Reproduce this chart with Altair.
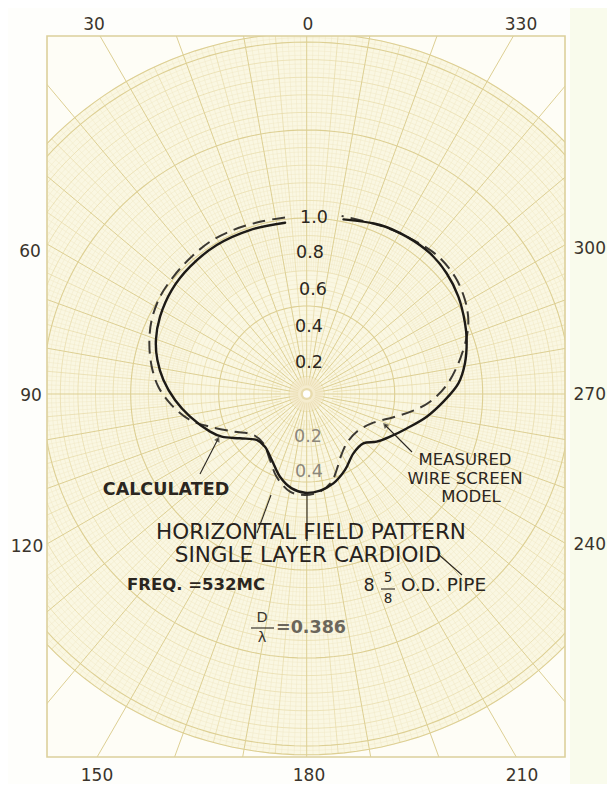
import altair as alt
import numpy as np
import pandas as pd

alt.data_transformers.disable_max_rows()

# ---------------- data ----------------
# calculated pattern (solid): azimuth in degrees (0 at top, counter-clockwise), relative field
calc_angle = [7.2, 19.1, 31.1, 42.5, 52.4, 62.2, 70.3, 77.2, 84.4, 92.6, 101.0, 111.3,
              116.7, 123.6, 132.6, 141.6, 152.1, 162.1, 171.0, 179.0, 187.9, 196.6,
              206.8, 218.2, 228.9, 235.7, 242.9, 251.0, 259.3, 266.8, 274.0, 281.0,
              288.6, 294.0, 302.7, 310.8, 318.8, 327.6, 336.5, 348.1]
calc_value = [0.981, 0.986, 0.989, 0.981, 0.968, 0.942, 0.910, 0.870, 0.818, 0.749, 0.675, 0.589,
              0.540, 0.455, 0.386, 0.382, 0.424, 0.494, 0.543, 0.561, 0.554, 0.530,
              0.483, 0.429, 0.427, 0.481, 0.532, 0.601, 0.694, 0.778, 0.864, 0.916,
              0.959, 0.985, 1.024, 1.050, 1.063, 1.059, 1.047, 1.014]
# measured wire screen model (dashed)
meas_angle = [7.0, 15.2, 24.1, 32.4, 40.7, 48.7, 56.4, 64.5, 72.2, 80.0, 87.2, 94.7, 102.6,
              108.7, 117.2, 127.5, 138.7, 150.9, 160.0, 170.3, 179.0, 187.8, 195.9, 201.5,
              208.5, 219.0, 233.0, 246.7, 255.0, 261.1, 266.4, 273.7, 281.4, 289.7, 294.6,
              300.7, 308.3, 316.9, 326.4, 335.4, 348.9]
meas_value = [1.011, 1.014, 1.021, 1.025, 1.017, 1.009, 1.000, 0.976, 0.939, 0.894, 0.844, 0.770, 0.679,
              0.580, 0.468, 0.382, 0.373, 0.429, 0.500, 0.563, 0.574, 0.560, 0.518, 0.464,
              0.405, 0.361, 0.356, 0.412, 0.510, 0.613, 0.702, 0.797, 0.879, 0.966, 1.010,
              1.046, 1.074, 1.081, 1.062, 1.046, 1.031]

angle_labels_left = ["30", "0", "330", "60", "90", "120", "150", "180", "210"]
angle_labels_right = ["300", "270", "240"]
value_labels = ["1.0", "0.8", "0.6", "0.4", "0.2"]
value_labels_low = ["0.2", "0.4"]
title_lines = ["HORIZONTAL FIELD PATTERN", "SINGLE LAYER CARDIOID"]
calc_text = ["CALCULATED"]
meas_text = ["MEASURED", "WIRE SCREEN", "MODEL"]
freq_text = ["FREQ. =532MC"]
pipe_text = ["8", "5", "8", "O.D. PIPE"]
dl_text = ["D", "\u03bb", "=0.386"]

# ---------------- layout (pixels) ----------------
CX, CY, PXU = 306.7, 394.0, 176.0
FX0, FY0, FX1, FY1 = 47, 36, 565, 757
W, H = FX1 - FX0, FY1 - FY0
R_OUT = 2.05


def ux(px):
    return (px - CX) / PXU


def uy(py):
    return (CY - py) / PXU


xs = alt.Scale(domain=[ux(FX0), ux(FX1)], nice=False, zero=False)
ys = alt.Scale(domain=[uy(FY1), uy(FY0)], nice=False, zero=False)


def XE(f="x"):
    return alt.X(f + ":Q", scale=xs, axis=None)


def YE(f="y"):
    return alt.Y(f + ":Q", scale=ys, axis=None)


# ---------------- polar graph paper ----------------
ring_r = np.round(np.arange(0.025, R_OUT + 1e-9, 0.025), 4)
theta = np.radians(np.arange(0, 362, 2))


def rings_df(radii):
    rows = []
    for i, r in enumerate(radii):
        for k, t in enumerate(theta):
            rows.append((i, k, round(r * np.cos(t), 4), round(r * np.sin(t), 4)))
    return pd.DataFrame(rows, columns=["id", "o", "x", "y"])


def is_mult(v, m):
    return abs(v / m - round(v / m)) < 1e-6


fine_r = [r for r in ring_r if not is_mult(r, 0.1)]
med_r = [r for r in ring_r if is_mult(r, 0.1) and not is_mult(r, 0.5)]
major_r = [r for r in ring_r if is_mult(r, 0.5)] + [R_OUT]


def radial_df(degs, r0, r1):
    rows = []
    for i, d in enumerate(degs):
        t = np.radians(d)
        for k, r in enumerate((r0, r1)):
            rows.append((i, k, round(-r * np.sin(t), 4), round(r * np.cos(t), 4)))
    return pd.DataFrame(rows, columns=["id", "o", "x", "y"])


deg_all = np.arange(0, 360)
rad_fine = radial_df([d for d in deg_all if d % 5 != 0], 0.7, R_OUT)
rad_half = radial_df([d for d in deg_all if d % 5 == 0 and d % 10 != 0], 0.15, R_OUT)
rad_major = radial_df([d for d in deg_all if d % 10 == 0], 0.05, 3.2)


def grid_layer(df, color, width, opacity=1.0, dash=None):
    kw = dict(color=color, strokeWidth=width, opacity=opacity, clip=True)
    if dash:
        kw["strokeDash"] = dash
    return alt.Chart(df).mark_line(**kw).encode(
        x=XE(), y=YE(), detail="id:N", order="o:Q")


# backgrounds
frame_df = pd.DataFrame({"x": [ux(FX0)], "x2": [ux(FX1)], "y": [uy(FY1)], "y2": [uy(FY0)]})
frame_bg = alt.Chart(frame_df).mark_rect(fill="#fefdf6", clip=True).encode(
    x=XE(), x2="x2:Q", y=YE(), y2="y2:Q")
frame_border = alt.Chart(frame_df).mark_rect(
    fill=None, stroke="#dcd09c", strokeWidth=1.6, clip=False).encode(
    x=XE(), x2="x2:Q", y=YE(), y2="y2:Q")

strip_df = pd.DataFrame({"x": [ux(570)], "x2": [ux(640)], "y": [uy(800)], "y2": [uy(-20)]})
strip = alt.Chart(strip_df).mark_rect(fill="#f9fbec", clip=False).encode(
    x=XE(), x2="x2:Q", y=YE(), y2="y2:Q")

dx = np.linspace(-R_OUT, R_OUT, 241)
disk_df = pd.DataFrame({"x": np.round(dx, 4),
                        "y": np.round(np.sqrt(np.maximum(R_OUT ** 2 - dx ** 2, 0)), 4)})
disk_df["y2"] = -disk_df["y"]
disk = alt.Chart(disk_df).mark_area(color="#faf7e2", clip=True, orient="vertical").encode(
    x=XE(), y=YE(), y2="y2:Q")

# ---------------- pattern curves ----------------
def curve_df(angles, vals):
    t = np.radians(np.array(angles))
    v = np.array(vals)
    return pd.DataFrame({"o": np.arange(len(v)), "x": -v * np.sin(t), "y": v * np.cos(t)})


calc_line = alt.Chart(curve_df(calc_angle, calc_value)).mark_line(
    color="#1d1a16", strokeWidth=2.4, interpolate="catmull-rom", clip=True,
    strokeCap="round").encode(x=XE(), y=YE(), order="o:Q")
meas_line = alt.Chart(curve_df(meas_angle, meas_value)).mark_line(
    color="#3b3832", strokeWidth=2.0, interpolate="catmull-rom", clip=True,
    strokeDash=[13, 7]).encode(x=XE(), y=YE(), order="o:Q")

# centre dot
cen_df = pd.DataFrame({"x": [0.0], "y": [0.0]})
glow = alt.Chart(cen_df).mark_point(filled=True, size=1100, color="#f2e7c6", opacity=0.7).encode(x=XE(), y=YE())
ring = alt.Chart(cen_df).mark_point(filled=True, size=150, color="#e8dbad", opacity=1).encode(x=XE(), y=YE())
dot = alt.Chart(cen_df).mark_point(filled=True, size=55, color="#ffffff", opacity=1).encode(x=XE(), y=YE())

# ---------------- leader lines ----------------
leaders_px = [
    [(200, 474), (218, 439)],      # calculated arrow
    [(412, 452), (385, 425)],      # measured arrow
    [(257, 533), (271, 495)],      # slanted leader
    [(307, 493), (307, 541)],      # vertical leader
    [(438, 554), (462, 575)],      # mark near CARDIOID
    [(381, 589), (395, 589)],      # 5/8 bar
    [(251, 628), (274, 628)],      # D / lambda bar
    [(2, 603), (2, 620)],          # scan edge marks
    [(0, 636), (6, 636)],
]
rows = []
for i, seg in enumerate(leaders_px):
    for k, (px, py) in enumerate(seg):
        rows.append((i, k, ux(px), uy(py)))
lead_df = pd.DataFrame(rows, columns=["id", "o", "x", "y"])
leaders = alt.Chart(lead_df).mark_line(color="#2a2620", strokeWidth=1.1, clip=False).encode(
    x=XE(), y=YE(), detail="id:N", order="o:Q")

arrow_df = pd.DataFrame({"x": [ux(218), ux(385)], "y": [uy(439), uy(425)], "a": [27.0, 315.0]})
arrows = alt.Chart(arrow_df).mark_point(shape="triangle-up", filled=True, size=38,
                                        color="#2a2620").encode(
    x=XE(), y=YE(), angle=alt.Angle("a:Q", scale=None))

# ---------------- texts ----------------
def text_layer(labels, pos, size, color="#2b2620", weight="normal", align="center", font="DejaVu Sans"):
    df = pd.DataFrame({"t": labels, "x": [ux(p[0]) for p in pos], "y": [uy(p[1]) for p in pos]})
    return alt.Chart(df).mark_text(fontSize=size, color=color, fontWeight=weight, align=align,
                                   baseline="middle", font=font).encode(
        x=XE(), y=YE(), text="t:N")


angle_pos_left = [(94, 25), (308, 25), (521, 25), (30, 252), (31, 396),
                  (27, 547), (97, 776), (309, 776), (522, 776)]
angle_pos_right = [(606, 249), (606, 395), (606, 545)]
t_angles = text_layer(angle_labels_left, angle_pos_left, 17, color="#3a342b")
t_angles_r = text_layer(angle_labels_right, angle_pos_right, 17, color="#3a342b", align="right")
t_vals = text_layer(value_labels, [(314, 218), (310, 253), (313, 290), (309, 327), (309, 363)], 17.5)
t_vals_low = text_layer(value_labels_low, [(308, 437), (309, 472)], 17.5, color="#8c877b")
t_title = text_layer(title_lines, [(311, 532.5), (308, 555.5)], 21.5, color="#26221d")
t_calc = text_layer(calc_text, [(166, 490)], 17.5, color="#2b2620", weight="bold")
t_meas = text_layer(meas_text, [(465, 460), (465, 479), (471, 497)], 16.5, color="#2b2620")
t_freq = text_layer(freq_text, [(196, 585)], 16.5, color="#2b2620", weight="bold")
t_pipe = text_layer(pipe_text[:1], [(369, 586)], 17.5, color="#2b2620")
t_frac = text_layer(pipe_text[1:3], [(388, 578), (388, 599)], 13.5, color="#2b2620")
t_pipe2 = text_layer(pipe_text[3:], [(401, 585)], 18.5, color="#2b2620", align="left")
t_dl = text_layer(dl_text[:2], [(262, 618), (262, 638)], 14.5, color="#3a352e")
t_dl2 = text_layer(dl_text[2:], [(276, 628)], 17.5, color="#6b665b", weight="bold", align="left")

chart = alt.layer(
    strip, frame_bg, disk,
    grid_layer(rings_df(fine_r), "#efe7c3", 0.5, 0.9),
    grid_layer(rad_fine, "#efe7c3", 0.5, 0.9),
    grid_layer(rings_df(med_r), "#e6daa6", 0.7),
    grid_layer(rad_half, "#e6daa6", 0.7),
    grid_layer(rings_df(major_r), "#ddcf93", 1.1),
    grid_layer(rad_major, "#ddcf93", 1.0),
    frame_border,
    glow, ring, dot,
    meas_line, calc_line,
    leaders, arrows,
    t_angles, t_angles_r, t_vals, t_vals_low, t_title, t_calc, t_meas, t_freq,
    t_pipe, t_frac, t_pipe2, t_dl, t_dl2,
).properties(
    width=W, height=H,
    padding={"left": FX0 - 8, "top": FY0 - 8, "right": 42, "bottom": 27},
    autosize=alt.AutoSizeParams(type="none"),
    background="#fefefb",
).configure_view(stroke=None)

chart.save("out.html", embed_options={"renderer": "svg", "actions": False})
